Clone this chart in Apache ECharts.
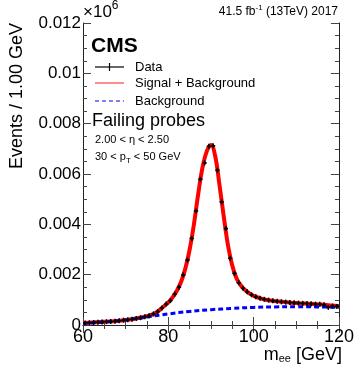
<!DOCTYPE html>
<html>
<head>
<meta charset="utf-8">
<script src="https://cdn.jsdelivr.net/npm/echarts@6/dist/echarts.min.js"></script>
<style>
html, body { margin: 0; padding: 0; background: #fff; }
#app { width: 357px; height: 367px; }
</style>
</head>
<body>
<div id="app"></div>
<script>
// bin centres in GeV (1 GeV bins)
var massBins = [60.5, 61.5, 62.5, 63.5, 64.5, 65.5, 66.5, 67.5, 68.5, 69.5,
    70.5, 71.5, 72.5, 73.5, 74.5, 75.5, 76.5, 77.5, 78.5, 79.5,
    80.5, 81.5, 82.5, 83.5, 84.5, 85.5, 86.5, 87.5, 88.5, 89.5,
    90.5, 91.5, 92.5, 93.5, 94.5, 95.5, 96.5, 97.5, 98.5, 99.5,
    100.5, 101.5, 102.5, 103.5, 104.5, 105.5, 106.5, 107.5, 108.5, 109.5,
    110.5, 111.5, 112.5, 113.5, 114.5, 115.5, 116.5, 117.5, 118.5, 119.5];
// events / 1 GeV, in units of 10^6
var dataVals = [0.00008, 0.00009, 0.00010, 0.00011, 0.00012, 0.00013, 0.00014, 0.00015, 0.00017, 0.00019,
    0.00021, 0.00023, 0.00026, 0.00029, 0.00033, 0.00037, 0.00044, 0.00053, 0.00068, 0.00083,
    0.00097, 0.00123, 0.00150, 0.00199, 0.00258, 0.00344, 0.00453, 0.00579, 0.00644, 0.00710,
    0.00712, 0.00615, 0.00489, 0.00383, 0.00265, 0.00205, 0.00168, 0.00146, 0.00132, 0.00120,
    0.00112, 0.00106, 0.00102, 0.00099, 0.00096, 0.00094, 0.00092, 0.00091, 0.00089, 0.00088,
    0.00087, 0.00086, 0.00085, 0.00084, 0.00083, 0.00082, 0.00080, 0.00070, 0.00075, 0.00074];

// signal + background fit curve
var fitMass = [60, 62, 64, 66, 68, 70, 72, 74, 76, 77, 78, 79, 80, 81, 82, 83, 84, 85, 86, 87,
    88, 89, 90, 91, 92, 93, 94, 95, 96, 97, 98, 99, 100, 102, 104, 106, 108, 110, 112, 114, 116, 118, 120];
var fitVals = [0.000075, 0.000095, 0.000115, 0.000135, 0.00016, 0.00020, 0.000245, 0.00031, 0.00040, 0.00048,
    0.00060, 0.00075, 0.00090, 0.00110, 0.00136, 0.00172, 0.00225, 0.00300, 0.00400, 0.00520,
    0.00625, 0.00690, 0.00715, 0.00670, 0.00555, 0.00430, 0.00315, 0.00235, 0.00185, 0.00157,
    0.00139, 0.00126, 0.00116, 0.00104, 0.00097, 0.00093, 0.00090, 0.00087, 0.00085, 0.00083,
    0.00081, 0.00078, 0.00076];

// background-only component
var bkgMass = [60, 65, 70, 75, 80, 85, 90, 95, 100, 105, 110, 115, 120];
var bkgVals = [0.00006, 0.00012, 0.00020, 0.00032, 0.00044, 0.00054, 0.00061, 0.00066, 0.00070, 0.00072, 0.00073, 0.00072, 0.00070];

var FONT = "'Liberation Sans', Arial, Helvetica, sans-serif";

var chart = echarts.init(document.getElementById('app'));

var measureCtx = document.createElement('canvas').getContext('2d');
function textWidth(s, font) {
    measureCtx.font = font;
    return measureCtx.measureText(s).width;
}

// a row of text pieces (for sub/superscripts), anchored left or right
function textRow(x, y, parts, align) {
    var total = 0;
    parts.forEach(function (p) {
        p.font = (p.bold ? 'bold ' : '') + p.size + 'px ' + FONT;
        p.w = textWidth(p.t, p.font);
        total += p.w;
    });
    var cx = align === 'right' ? x - total : x;
    return parts.map(function (p) {
        var el = {
            type: 'text', x: cx, y: y + (p.dy || 0), z: 10,
            style: { text: p.t, font: p.font, fill: '#000', align: 'left', verticalAlign: 'middle' }
        };
        cx += p.w;
        return el;
    });
}

var points = massBins.map(function (m, i) {
    var v = dataVals[i];
    return [m, v, Math.sqrt(v * 1e6) / 1e6];
});

var tickColor = '#444';
function axisCommon(showLabels) {
    return {
        type: 'value',
        axisLine: { show: true, lineStyle: { color: '#222', width: 1 } },
        axisTick: { show: true, inside: true, length: 8, lineStyle: { color: tickColor } },
        minorTick: { show: true, splitNumber: 4, length: 4, lineStyle: { color: tickColor } },
        splitLine: { show: false },
        axisLabel: {
            show: showLabels, color: '#000', fontSize: 17, fontFamily: FONT
        }
    };
}

var xBottom = axisCommon(true);
xBottom.min = 60; xBottom.max = 120; xBottom.interval = 20; xBottom.position = 'bottom';
xBottom.axisLabel.margin = 3;
xBottom.axisLabel.fontSize = 18;
var xTop = axisCommon(false);
xTop.min = 60; xTop.max = 120; xTop.interval = 20; xTop.position = 'top';

var yLeft = axisCommon(true);
yLeft.min = 0; yLeft.max = 0.012; yLeft.interval = 0.002; yLeft.position = 'left';
yLeft.axisLabel.margin = 2;
// ROOT-style labels: drop trailing zeros (0.01, not 0.010)
yLeft.axisLabel.formatter = function (v) { return String(parseFloat(v.toFixed(3))); };
var yRight = axisCommon(false);
yRight.min = 0; yRight.max = 0.012; yRight.interval = 0.002; yRight.position = 'right';

var graphics = [];
graphics = graphics.concat(textRow(83, 12, [{ t: '\u00d710', size: 17 }, { t: '6', size: 12, dy: -6 }], 'left'));
graphics = graphics.concat(textRow(338, 12, [{ t: '41.5 fb', size: 12 }, { t: '-1', size: 8, dy: -4 }, { t: ' (13TeV) 2017', size: 12 }], 'right'));
graphics = graphics.concat(textRow(91, 46, [{ t: 'CMS', size: 21, bold: true }], 'left'));
graphics = graphics.concat(textRow(135, 67, [{ t: 'Data', size: 13 }], 'left'));
graphics = graphics.concat(textRow(135, 83, [{ t: 'Signal + Background', size: 13 }], 'left'));
graphics = graphics.concat(textRow(135, 101, [{ t: 'Background', size: 13 }], 'left'));
graphics = graphics.concat(textRow(92, 121, [{ t: 'Failing probes', size: 18 }], 'left'));
graphics = graphics.concat(textRow(95, 140, [{ t: '2.00 < \u03b7 < 2.50', size: 11 }], 'left'));
graphics = graphics.concat(textRow(95, 157, [{ t: '30 < p', size: 11 }, { t: 'T', size: 8, dy: 4 }, { t: ' < 50 GeV', size: 11 }], 'left'));
graphics = graphics.concat(textRow(342, 355, [{ t: 'm', size: 18 }, { t: 'ee', size: 11, dy: 4 }, { t: ' [GeV]', size: 18 }], 'right'));
// legend symbols
graphics.push({ type: 'line', z: 10, shape: { x1: 95, y1: 67, x2: 124, y2: 67 }, style: { stroke: '#000', lineWidth: 1.2 } });
graphics.push({ type: 'line', z: 10, shape: { x1: 109.5, y1: 63, x2: 109.5, y2: 71 }, style: { stroke: '#000', lineWidth: 1.2 } });
graphics.push({ type: 'line', z: 10, shape: { x1: 95, y1: 83, x2: 124, y2: 83 }, style: { stroke: '#ff4040', lineWidth: 1.2 } });
graphics.push({ type: 'line', z: 10, shape: { x1: 95, y1: 101, x2: 124, y2: 101 }, style: { stroke: '#0000ff', lineWidth: 1.2, lineDash: [4, 3] } });
// y axis title
graphics.push({
    type: 'text', x: 17, y: 23, rotation: Math.PI / 2, z: 10,
    style: { text: 'Events / 1.00 GeV', font: '18px ' + FONT, fill: '#000', align: 'right', verticalAlign: 'middle' }
});

var option = {
    animation: false,
    backgroundColor: '#fff',
    grid: { left: 83, right: 15, top: 23, bottom: 42 },
    xAxis: [xBottom, xTop],
    yAxis: [yLeft, yRight],
    graphic: { elements: graphics },
    series: [
        {
            name: 'Signal + Background', type: 'line',
            data: fitMass.map(function (m, i) { return [m, fitVals[i]]; }),
            smooth: 0.4, showSymbol: false, z: 2,
            lineStyle: { color: '#ff0000', width: 4 }
        },
        {
            name: 'Background', type: 'line',
            data: bkgMass.map(function (m, i) { return [m, bkgVals[i]]; }),
            smooth: 0.4, showSymbol: false, z: 3,
            lineStyle: { color: '#0000ff', width: 3, type: [5, 3] }
        },
        {
            name: 'Data', type: 'custom', z: 4,
            data: points,
            renderItem: function (params, api) {
                var x = api.value(0), y = api.value(1), e = api.value(2);
                var l = api.coord([x - 0.5, y]), r = api.coord([x + 0.5, y]);
                var t = api.coord([x, y + e]), b = api.coord([x, y - e]);
                var c = api.coord([x, y]);
                return {
                    type: 'group',
                    children: [
                        { type: 'line', shape: { x1: l[0], y1: l[1], x2: r[0], y2: r[1] }, style: { stroke: '#000', lineWidth: 1.5 } },
                        { type: 'line', shape: { x1: c[0], y1: Math.min(t[1], c[1] - 2.5), x2: c[0], y2: Math.max(b[1], c[1] + 2.5) }, style: { stroke: '#000', lineWidth: 1.5 } },
                        { type: 'circle', shape: { cx: c[0], cy: c[1], r: 1.3 }, style: { fill: '#000' } }
                    ]
                };
            }
        }
    ]
};

chart.setOption(option);
</script>
</body>
</html>
